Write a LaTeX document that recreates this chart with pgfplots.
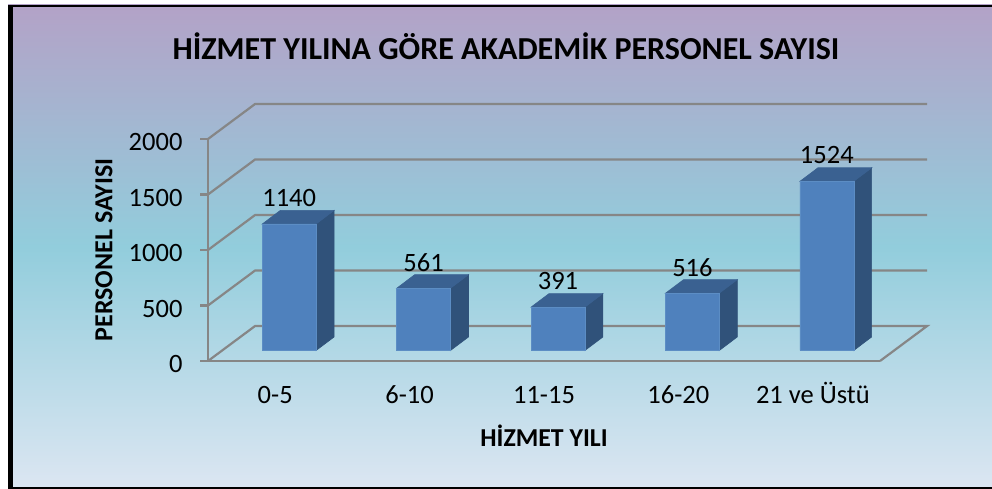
\documentclass[border=0pt]{standalone}
\usepackage{fontspec}
\usepackage{pgfplots}
\pgfplotsset{compat=1.18}
\setmainfont{Carlito}

\definecolor{gridgray}{HTML}{868686}
\definecolor{barfront}{HTML}{4F81BD}
\definecolor{barside}{HTML}{30527A}
\definecolor{bartop}{HTML}{3A6191}
\definecolor{baredge}{HTML}{5C8DC4}
\definecolor{bgbottom}{HTML}{DCE6F2}
\definecolor{bgmid}{HTML}{92CDDC}
\definecolor{bgtop}{HTML}{B3A2C7}

% background gradient of the chart area
\pgfdeclareverticalshading{chartbg}{100bp}{
  color(0bp)=(bgbottom);
  color(25bp)=(bgbottom);
  color(50bp)=(bgmid);
  color(75bp)=(bgtop);
  color(100bp)=(bgtop)}

\newcommand{\fs}[1]{\fontsize{#1}{#1}\selectfont}

\pgfplotsset{
  grid3d/.style={draw=gridgray, line width=2.2pt, forget plot},
  barpart/.style={xshift=14pt, yshift=10.5pt, forget plot, line width=0.6pt},
  side/.style={barpart, fill=barside, draw=barside},
  topf/.style={barpart, fill=bartop, draw=bartop},
}

\begin{document}
\begin{tikzpicture}[x=1pt,y=1pt]
\useasboundingbox (0,0) rectangle (992,489);
\fill[white] (0,0) rectangle (992,489);
\shade[shading=chartbg] (8,0) rectangle (992,484);
\fill[black] (8,481.5) rectangle (992,484);
\fill[black] (8,0) rectangle (13,484);
\fill[black] (8,0) rectangle (992,2);
\begin{axis}[
  at={(208pt,128pt)}, anchor=south west,
  scale only axis, width=672pt, height=222pt,
  xmin=-0.5, xmax=4.5, ymin=0, ymax=2000,
  clip=false,
  axis x line*=bottom, axis y line*=left,
  axis line style={gridgray, line width=2.2pt, -},
  xtick={0,1,2,3,4},
  xticklabels={0-5,6-10,11-15,16-20,21 ve Üstü},
  ytick={0,500,1000,1500,2000},
  x tick style={draw=none},
  y tick style={gridgray, line width=2.2pt},
  tick align=outside, major tick length=8pt,
  /pgf/number format/1000 sep={},
  /pgf/number format/assume math mode=true,
  tick label style={font=\fs{26.5}},
  xticklabel style={anchor=base, yshift=-35pt},
  yticklabel style={xshift=-14pt, yshift=-3pt},
  title={HİZMET YILINA GÖRE AKADEMİK PERSONEL SAYISI},
  title style={font=\fs{32}\bfseries, at={(axis description cs:0.4435,1.3915)}, anchor=center},
  xlabel={HİZMET YILI},
  xlabel style={font=\fs{25.8}\bfseries, at={(axis description cs:0.5,-0.335)}, anchor=center},
  ylabel={PERSONEL SAYISI},
  ylabel style={font=\fs{26}\bfseries, at={(axis description cs:-0.1548,0.5)}, anchor=center},
]
% back wall and floor
\addplot[grid3d] coordinates {(-0.5,0) (-0.15,315) (4.85,315) (4.5,0)};
\addplot[grid3d] coordinates {(-0.5,500) (-0.15,815) (4.85,815)};
\addplot[grid3d] coordinates {(-0.5,1000) (-0.15,1315) (4.85,1315)};
\addplot[grid3d] coordinates {(-0.5,1500) (-0.15,1815) (4.85,1815)};
\addplot[grid3d] coordinates {(-0.5,2000) (-0.15,2315) (4.85,2315)};
% side faces
\addplot[side] coordinates {(0.2,0) (0.334,122) (0.334,1262) (0.2,1140)} --cycle;
\addplot[side] coordinates {(1.2,0) (1.334,122) (1.334,683) (1.2,561)} --cycle;
\addplot[side] coordinates {(2.2,0) (2.334,122) (2.334,513) (2.2,391)} --cycle;
\addplot[side] coordinates {(3.2,0) (3.334,122) (3.334,638) (3.2,516)} --cycle;
\addplot[side] coordinates {(4.2,0) (4.334,122) (4.334,1646) (4.2,1524)} --cycle;
% top faces
\addplot[topf] coordinates {(-0.2,1140) (0.2,1140) (0.334,1262) (-0.066,1262)} --cycle;
\addplot[topf] coordinates {(0.8,561) (1.2,561) (1.334,683) (0.934,683)} --cycle;
\addplot[topf] coordinates {(1.8,391) (2.2,391) (2.334,513) (1.934,513)} --cycle;
\addplot[topf] coordinates {(2.8,516) (3.2,516) (3.334,638) (2.934,638)} --cycle;
\addplot[topf] coordinates {(3.8,1524) (4.2,1524) (4.334,1646) (3.934,1646)} --cycle;
% front faces with the values
\addplot[ybar, bar width=54pt, barpart, fill=barfront, draw=baredge,
  nodes near coords,
  every node near coord/.append style={font=\fs{26.5}, black, anchor=center, yshift=26pt}]
  coordinates {(0,1140) (1,561) (2,391) (3,516) (4,1524)};
\end{axis}
\end{tikzpicture}
\end{document}
